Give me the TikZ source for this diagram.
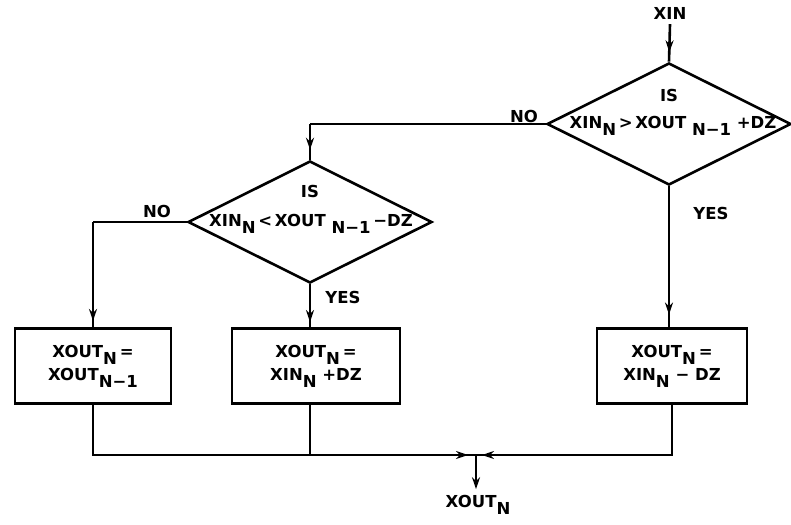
\documentclass[tikz,border=0pt]{standalone}
\usepackage{fontspec}
\setmainfont{DejaVu Sans}
\usetikzlibrary{shapes.geometric,arrows.meta,decorations.markings}
\newcommand{\sbn}[1]{\raisebox{-7pt}{#1}}
\begin{document}
\begin{tikzpicture}[x=1pt,y=-1pt,
 every node/.style={font=\fontsize{16.5}{16.5}\selectfont\bfseries, inner sep=0pt},
 line/.style={line width=2.6pt},
 dia/.style={draw, line width=2.6pt, diamond, minimum width=244pt, minimum height=122pt, inner sep=0pt},
 box/.style={draw, line width=2.6pt, minimum height=75pt, align=center},
 midarrow/.style={postaction={decorate}, decoration={markings, mark=at position #1 with {\arrow{Stealth[length=12pt,width=8pt]}}}},
]
\useasboundingbox (0,0) rectangle (791,524);

% decisions
\node[dia] (d1) at (669,124) {};
\node (d1is) at (669,95) {IS};
\node (d1q) at (673,126) {XIN\sbn{N}\,>\,XOUT\ \sbn{N−1}\ +DZ};
\node[dia] (d2) at (310,222) {};
\node (d2is) at (310,191) {IS};
\node (d2q) at (311,224) {XIN\sbn{N}\,<\,XOUT\ \sbn{N−1}\,−DZ};

% boxes
\node[box, minimum width=156pt] (b1) at (93,366) {XOUT\sbn{N}\,=\\[3pt]XOUT\sbn{N−1}};
\node[box, minimum width=168pt] (b2) at (316,366) {XOUT\sbn{N}\,=\\[3pt]XIN\sbn{N}\ +DZ};
\node[box, minimum width=150pt] (b3) at (672,366) {XOUT\sbn{N}\,=\\[3pt]XIN\sbn{N}\ −\ DZ};

% labels
\node (xin) at (670,13) {XIN};
\node (no1) at (524,116) {NO};
\node (no2) at (157,211) {NO};
\node (yes1) at (711,213) {YES};
\node (yes2) at (343,297) {YES};
\node (out) at (478,505) {XOUT\sbn{N}};

% connectors
\draw[line, midarrow=0.75] (xin.south) ++(0,5) coordinate (xs) -- (d1.north);
\coordinate (c1) at (d2.north |- d1.west);
\draw[line] (d1.west) -- (c1);
\draw[line, midarrow=0.72] (c1) -- (d2.north);
\coordinate (c2) at (b1.north |- d2.west);
\draw[line] (d2.west) -- (c2);
\draw[line, midarrow=0.94] (c2) -- (b1.north);
\draw[line, midarrow=0.88] (d2.south) -- (d2.south |- b2.north);
\draw[line, midarrow=0.91] (d1.south) -- (d1.south |- b3.north);

\coordinate (j) at (476,455);
\draw[line, midarrow=-8pt] (b1.south) |- (j);
\draw[line] (d2.south |- b2.south) -- (d2.south |- j);
\draw[line, midarrow=-6pt] (b3.south) |- (j);
\draw[line, -{Stealth[length=12pt,width=8pt]}, shorten >=6pt] (j) -- (j |- out.north);
\end{tikzpicture}
\end{document}
